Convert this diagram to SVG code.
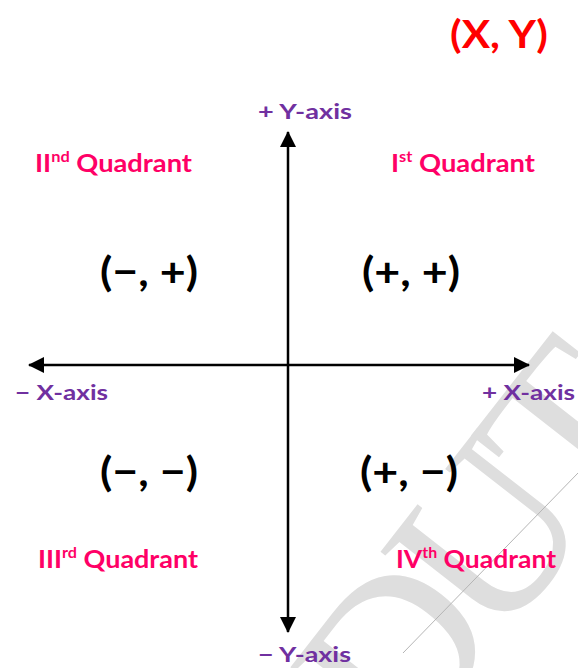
<svg xmlns="http://www.w3.org/2000/svg" width="578" height="668" viewBox="0 0 578 668">
<defs>
<marker id="ah" viewBox="0 0 16 16" refX="15" refY="8" markerWidth="16" markerHeight="16" markerUnits="userSpaceOnUse" orient="auto">
<path d="M0,0 L16,8 L0,16 z" fill="#000"/>
</marker>
</defs>
<style>
.q{font-family:Lato,"Open Sans",sans-serif;font-weight:bold;fill:#ff0066;font-size:25px}
.ax{font-family:Lato,"Open Sans",sans-serif;font-weight:bold;fill:#7030a0;font-size:21px}
.s{font-family:Lato,"Open Sans",sans-serif;font-weight:bold;font-size:40px;fill:#000}
.sup{font-size:15px}
.wm{font-family:"Liberation Serif",serif;font-size:230px;fill:#dedede}
</style>
<rect width="578" height="668" fill="#fff"/>
<g id="watermark">
<text class="wm" transform="translate(405,765) rotate(-52)" letter-spacing="-18">DUT</text>
<line x1="403" y1="653" x2="578" y2="473" stroke="#b5b5b5" stroke-width="1"/>
</g>
<g id="connectors" stroke="#000" stroke-width="2.5" fill="none">
<line x1="288" y1="366" x2="288" y2="132" marker-end="url(#ah)"/>
<line x1="288" y1="366" x2="288" y2="632" marker-end="url(#ah)"/>
<line x1="288" y1="365" x2="29" y2="365" marker-end="url(#ah)"/>
<line x1="288" y1="365" x2="529" y2="365" marker-end="url(#ah)"/>
</g>
<g id="title"><text x="450" y="48" font-family="Lato,'Open Sans',sans-serif" font-weight="bold" font-size="39" fill="#ff0000" textLength="98" lengthAdjust="spacingAndGlyphs">(X, Y)</text></g>
<g id="y-pos"><text class="ax" x="258" y="119" textLength="94" lengthAdjust="spacingAndGlyphs">+ Y-axis</text></g>
<g id="y-neg"><text class="ax" x="258" y="662" textLength="93" lengthAdjust="spacingAndGlyphs">− Y-axis</text></g>
<g id="x-neg"><text class="ax" x="15" y="400" textLength="93" lengthAdjust="spacingAndGlyphs">− X-axis</text></g>
<g id="x-pos"><text class="ax" x="482" y="400" textLength="93" lengthAdjust="spacingAndGlyphs">+ X-axis</text></g>
<g id="q2"><text class="q" x="35" y="172" textLength="157" lengthAdjust="spacingAndGlyphs">II<tspan class="sup" dy="-10">nd</tspan><tspan dy="10"> Quadrant</tspan></text></g>
<g id="q1"><text class="q" x="391" y="172" textLength="144" lengthAdjust="spacingAndGlyphs">I<tspan class="sup" dy="-10">st</tspan><tspan dy="10"> Quadrant</tspan></text></g>
<g id="q3"><text class="q" x="38" y="568" textLength="160" lengthAdjust="spacingAndGlyphs">III<tspan class="sup" dy="-10">rd</tspan><tspan dy="10"> Quadrant</tspan></text></g>
<g id="q4"><text class="q" x="396" y="568" textLength="160" lengthAdjust="spacingAndGlyphs">IV<tspan class="sup" dy="-10">th</tspan><tspan dy="10"> Quadrant</tspan></text></g>
<g id="s2"><text class="s" x="100" y="286" textLength="98" lengthAdjust="spacingAndGlyphs">(−, +)</text></g>
<g id="s1"><text class="s" x="362" y="286" textLength="98" lengthAdjust="spacingAndGlyphs">(+, +)</text></g>
<g id="s3"><text class="s" x="100" y="486" textLength="98" lengthAdjust="spacingAndGlyphs">(−, −)</text></g>
<g id="s4"><text class="s" x="360" y="486" textLength="98" lengthAdjust="spacingAndGlyphs">(+, −)</text></g>
</svg>
